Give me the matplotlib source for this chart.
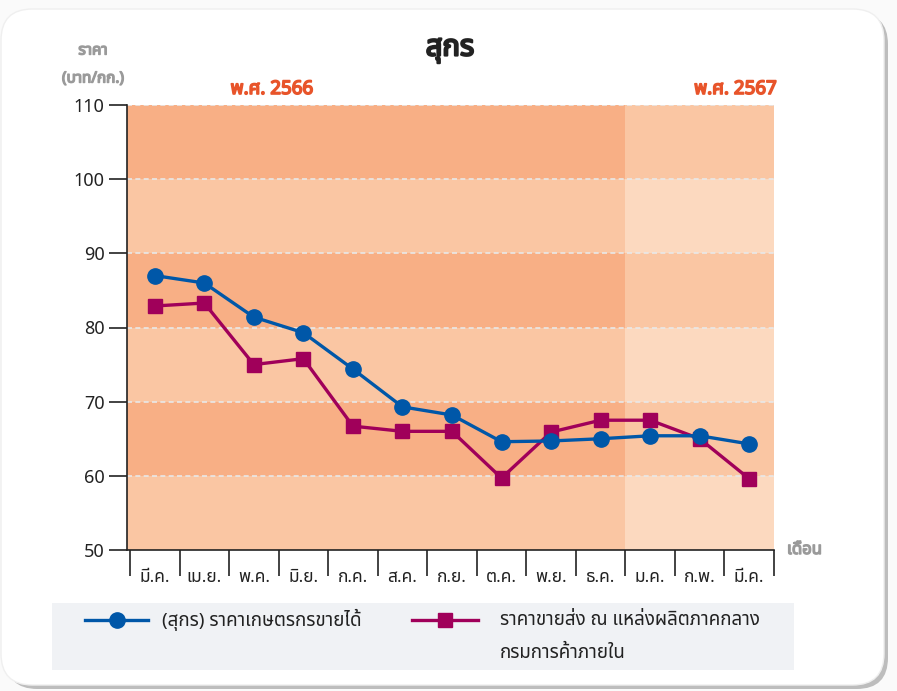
import matplotlib
matplotlib.use("Agg")
import matplotlib.pyplot as plt
from matplotlib import font_manager
from matplotlib.ft2font import FT2Font
from matplotlib.patches import FancyBboxPatch, Rectangle
from matplotlib.lines import Line2D
import matplotlib.patheffects as pe

# ---------------- data ----------------
months = ["มี.ค.", "เม.ย.", "พ.ค.", "มิ.ย.", "ก.ค.", "ส.ค.", "ก.ย.", "ต.ค.",
          "พ.ย.", "ธ.ค.", "ม.ค.", "ก.พ.", "มี.ค."]
farm_price = [87.0, 86.0, 81.4, 79.3, 74.4, 69.3, 68.2, 64.6, 64.7, 65.0, 65.4, 65.4, 64.3]
wholesale_price = [82.9, 83.3, 75.0, 75.8, 66.7, 66.0, 66.0, 59.7, 65.9, 67.5, 67.5, 65.0, 59.6]
yticks = [50, 60, 70, 80, 90, 100, 110]
title = "สุกร"
series_labels = ["(สุกร) ราคาเกษตรกรขายได้", "ราคาขายส่ง ณ แหล่งผลิตภาคกลาง\nกรมการค้าภายใน"]
year_labels = ["พ.ศ. 2566", "พ.ศ. 2567"]

# ---------------- font with Thai glyphs ----------------
def find_thai_family():
    prefer = ["Noto Sans Thai", "Noto Sans Thai Looped", "Kanit", "Sarabun", "Noto Sans",
              "Loma", "Garuda", "Tlwg Typo", "Waree", "Norasi", "DejaVu Sans"]
    cover = {}
    for f in font_manager.fontManager.ttflist:
        try:
            cm = FT2Font(f.fname).get_charmap()
        except Exception:
            continue
        if 0x0E01 in cm and 0x0E2A in cm:
            cover[f.name] = True
    for p in prefer:
        if p in cover:
            return p
    if cover:
        return sorted(cover)[0]
    return "DejaVu Sans"

thai = find_thai_family()
plt.rcParams["font.family"] = [thai, "DejaVu Sans"]

def bold(color, w=0.9):
    return [pe.withStroke(linewidth=w, foreground=color)]

W, H = 897, 691
fig = plt.figure(figsize=(W / 100, H / 100), dpi=100)
fig.patch.set_facecolor("#FAFAFA")

def fx(px):
    return px / W

def fy(py):
    return 1 - py / H

# card with shadow
shadow = FancyBboxPatch((fx(6), fy(689)), fx(888) - fx(6), fy(13) - fy(689),
                        boxstyle="round,pad=0,rounding_size=0.035",
                        transform=fig.transFigure, facecolor="#BDBDBD", edgecolor="none",
                        zorder=-2, mutation_aspect=W / H)
fig.add_artist(shadow)
card = FancyBboxPatch((fx(1), fy(685)), fx(884) - fx(1), fy(9) - fy(685),
                      boxstyle="round,pad=0,rounding_size=0.035",
                      transform=fig.transFigure, facecolor="white", edgecolor="#EFEFEF",
                      zorder=-1, mutation_aspect=W / H)
fig.add_artist(card)

ax = fig.add_axes([fx(127), fy(550), fx(774) - fx(127), fy(105) - fy(550)])
ax.set_zorder(5)
ax.set_facecolor("none")
x = list(range(len(months)))
ax.set_xlim(-0.56, 12.5)
ax.set_ylim(50, 110)

# background bands
split = 9.5
for i in range(len(yticks) - 1):
    lo, hi = yticks[i], yticks[i + 1]
    dark = (i % 2 == 1)
    c_left = "#F8AF85" if dark else "#FAC6A3"
    c_right = "#FAC6A3" if dark else "#FCD9BF"
    ax.add_patch(Rectangle((-0.56, lo), split + 0.56, hi - lo, facecolor=c_left,
                           edgecolor="none", zorder=0))
    ax.add_patch(Rectangle((split, lo), 12.5 - split, hi - lo, facecolor=c_right,
                           edgecolor="none", zorder=0))
for yv in yticks[1:]:
    ax.axhline(yv, color="#E8E8E8", lw=1.2, ls=(0, (3, 2)), zorder=1)

BLUE, RED = "#0057A8", "#A0005A"
l1, = ax.plot(x, farm_price, color=BLUE, lw=2.4, marker="o", ms=11,
              label=series_labels[0], zorder=4, clip_on=False)
l2, = ax.plot(x, wholesale_price, color=RED, lw=2.4, marker="s", ms=10.5,
              label=series_labels[1], zorder=3, clip_on=False)

for s in ["top", "right"]:
    ax.spines[s].set_visible(False)
ax.spines["left"].set_color("#222222")
ax.spines["bottom"].set_color("#222222")
ax.spines["left"].set_linewidth(1.2)
ax.spines["bottom"].set_linewidth(1.2)

ax.set_yticks(yticks)
ax.set_yticklabels([str(v) for v in yticks], fontsize=13, color="#222222")
ax.tick_params(axis="y", length=13, width=1.2, color="#222222", pad=3)

ax.set_xticks([i + 0.5 for i in range(-1, 13)], minor=False)
ax.set_xticklabels([])
ax.tick_params(axis="x", length=19, width=1.2, color="#222222")
ax.set_xticks(x, minor=True)
ax.set_xticklabels(months, minor=True, fontsize=12.5, color="#222222")
ax.tick_params(axis="x", which="minor", length=0, pad=13)

# texts
fig.text(fx(450), fy(48), title, fontsize=21, fontweight="bold", ha="center", va="center",
         color="#222222", path_effects=bold("#222222", 1.6))
fig.text(fx(93), fy(51), "ราคา", fontsize=11, fontweight="bold", ha="center", va="center",
         color="#9A9A9A", path_effects=bold("#9A9A9A", 1.0))
fig.text(fx(93), fy(79), "(บาท/กก.)", fontsize=11, fontweight="bold", ha="center", va="center",
         color="#9A9A9A", path_effects=bold("#9A9A9A", 1.0))
fig.text(fx(272), fy(89), year_labels[0], fontsize=13.5, fontweight="bold", ha="center",
         va="center", color="#E8542A", path_effects=bold("#E8542A", 1.2))
fig.text(fx(777), fy(89), year_labels[1], fontsize=13.5, fontweight="bold", ha="right",
         va="center", color="#E8542A", path_effects=bold("#E8542A", 1.2))
fig.text(fx(787), fy(550), "เดือน", fontsize=12, fontweight="bold", ha="left", va="center",
         color="#9A9A9A", path_effects=bold("#9A9A9A", 1.0))

# legend box (manual layout, handles styled from the plotted lines)
fig.add_artist(Rectangle((fx(52), fy(670)), fx(794) - fx(52), fy(603) - fy(670),
                         transform=fig.transFigure, facecolor="#F0F2F5", edgecolor="none",
                         zorder=1))
legend_items = [(l1, 85, 148, 162), (l2, 412, 478, 500)]
for line, xa, xb, xt in legend_items:
    fig.add_artist(Line2D([fx(xa), fx(xb)], [fy(620), fy(620)], transform=fig.transFigure,
                          color=line.get_color(), lw=line.get_linewidth(), zorder=2))
    fig.add_artist(Line2D([fx((xa + xb) / 2)], [fy(620)], transform=fig.transFigure,
                          marker=line.get_marker(), ms=line.get_markersize(),
                          color=line.get_color(), lw=0, zorder=3))
    lines = line.get_label().split("\n")
    for k, s in enumerate(lines):
        fig.text(fx(xt), fy(620 + 33 * k), s, fontsize=13.5, ha="left", va="center",
                 color="#222222", zorder=3)

fig.savefig("out.png", dpi=100, facecolor=fig.get_facecolor())
